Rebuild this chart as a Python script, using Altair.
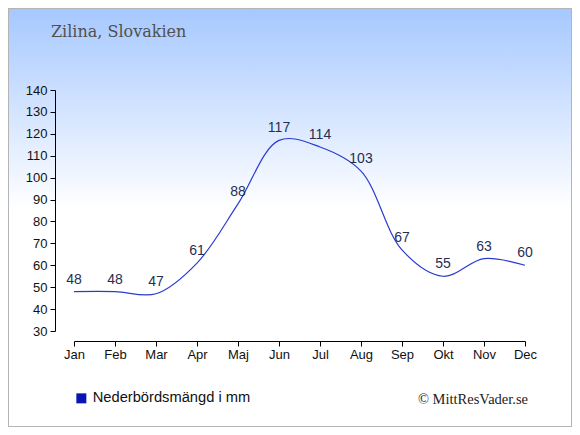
import altair as alt
import pandas as pd

months = ["Jan", "Feb", "Mar", "Apr", "Maj", "Jun", "Jul", "Aug", "Sep", "Okt", "Nov", "Dec"]
precip = [48, 48, 47, 61, 88, 117, 114, 103, 67, 55, 63, 60]
y_ticks = [30, 40, 50, 60, 70, 80, 90, 100, 110, 120, 130, 140]
series_name = "Nederbördsmängd i mm"
title_text = "Zilina, Slovakien"
credit_text = "© MittResVader.se"

df = pd.DataFrame({"month": months, "mm": precip, "serie": [series_name] * len(months)})

W, H = 451, 241
PL, PT, PR, PB = 66, 82, 47, 96

base = alt.Chart(df)

bg = base.mark_rect(
    fill=alt.Gradient(
        gradient="linear",
        stops=[alt.GradientStop(color="#a6c8ff", offset=0),
               alt.GradientStop(color="#ffffff", offset=0.48),
               alt.GradientStop(color="#ffffff", offset=1)],
        x1=0, x2=0, y1=0, y2=1,
    ),
    stroke="#b4b4b4", strokeWidth=1,
).encode(
    x=alt.value(-PL + 0.5), x2=alt.value(W + PR - 0.5),
    y=alt.value(-PT + 0.5), y2=alt.value(H + PB - 0.5),
)

xenc = alt.X("month:N", sort=months, scale=alt.Scale(type="point", padding=0),
             axis=alt.Axis(title=None, offset=10, labelAngle=0, tickSize=5,
                           labelPadding=2, domainColor="#000", tickColor="#000",
                           labelColor="#111", labelFont="Liberation Sans",
                           labelFontSize=13, grid=False, zindex=1,
                           labelOverlap=False))
yenc = alt.Y("mm:Q", scale=alt.Scale(domain=[30, 140], nice=False, zero=False),
             axis=alt.Axis(title=None, offset=19, values=y_ticks,
                           tickSize=5, labelPadding=3, domainColor="#000",
                           tickColor="#000", labelColor="#111",
                           labelFont="Liberation Sans", labelFontSize=13, grid=False,
                           zindex=1, labelOverlap=False))

line = base.mark_line(interpolate="catmull-rom", strokeWidth=1.2).encode(
    x=xenc, y=yenc,
    color=alt.Color("serie:N", scale=alt.Scale(range=["#2a3bd0"]),
                    legend=alt.Legend(orient="none", legendX=-PL + 66, legendY=H + 60,
                                      title=None, symbolType="square",
                                      symbolFillColor="#0a14b4", symbolStrokeColor="#0a14b4",
                                      symbolStrokeWidth=0, symbolSize=100,
                                      labelFont="Liberation Sans", labelFontSize=14.7,
                                      labelColor="#111", labelOffset=4, zindex=1)),
)

labels = base.mark_text(baseline="alphabetic", dy=-8, fontSize=14,
                        font="Liberation Sans", color="#1f2f55").encode(
    x=xenc, y=yenc, text="mm:Q")

credit = alt.Chart(pd.DataFrame({"t": [credit_text]})).mark_text(
    align="right", baseline="alphabetic", font="Liberation Serif", fontSize=14.5,
    color="#222").encode(x=alt.value(W + 3), y=alt.value(H + 73), text="t:N")

title = alt.Chart(pd.DataFrame({"t": [title_text]})).mark_text(
    align="left", baseline="alphabetic", font="DejaVu Serif", fontSize=16,
    color="#505050").encode(x=alt.value(-23), y=alt.value(-53), text="t:N")

chart = alt.layer(bg, line, labels, credit, title).properties(
    width=W, height=H,
    padding={"left": PL, "top": PT, "right": PR, "bottom": PB},
    autosize=alt.AutoSizeParams(type="none"),
).configure_view(stroke=None)

chart.save("out.html", embed_options={"renderer": "svg", "actions": False})
